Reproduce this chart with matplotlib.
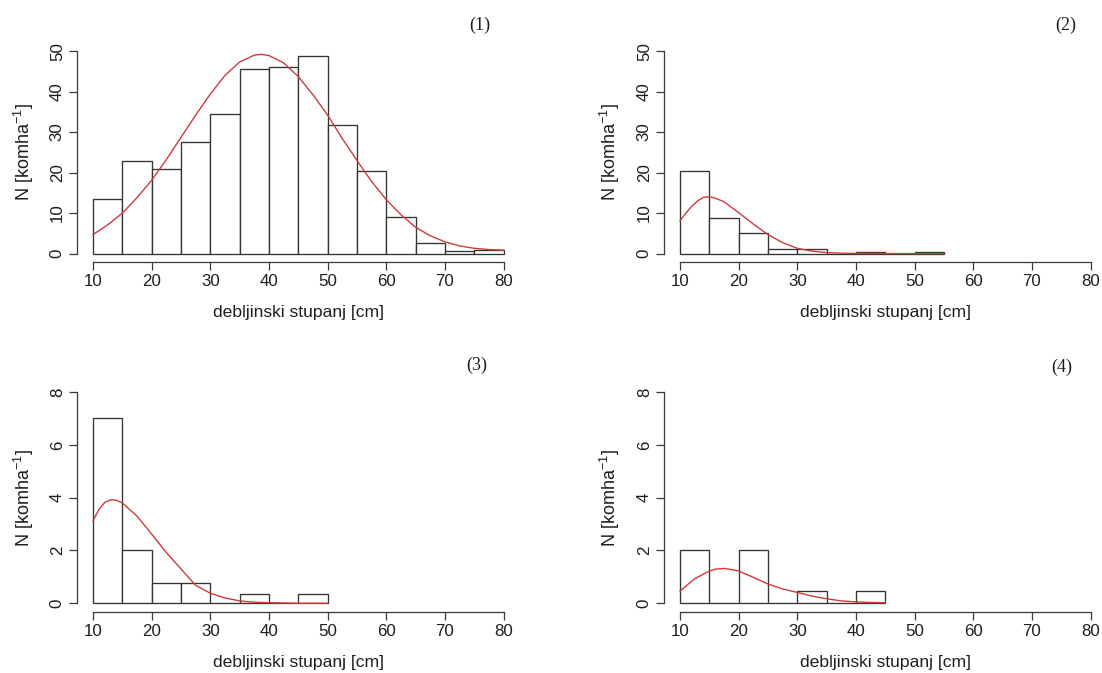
import matplotlib
matplotlib.use("Agg")
import matplotlib.pyplot as plt

plt.rcParams['font.family'] = ['Liberation Sans', 'DejaVu Sans']
plt.rcParams['mathtext.default'] = 'regular'

# histogram bins (cm) and bar heights, N per ha
edges1 = [10, 15, 20, 25, 30, 35, 40, 45, 50, 55, 60, 65, 70, 75]
bars1 = [13.6, 22.9, 21.0, 27.5, 34.5, 45.6, 46.0, 48.9, 31.7, 20.5, 9.0, 2.5, 0.6, 0.9]
edges2 = [10, 15, 20, 25, 30, 35, 40, 45, 50]
bars2 = [20.4, 8.7, 5.0, 1.2, 1.2, 0, 0.35, 0, 0.35]
edges3 = [10, 15, 20, 25, 30, 35, 40, 45]
bars3 = [7.0, 2.0, 0.75, 0.75, 0, 0.35, 0, 0.35]
edges4 = [10, 15, 20, 25, 30, 35, 40]
bars4 = [2.0, 0, 2.0, 0, 0.45, 0, 0.45]

# fitted curves
cx1 = [10, 12.5, 15, 17.5, 20, 22.5, 25, 27.5, 30, 32.5, 35, 37.5, 38.7, 40,
       42.5, 45, 47.5, 50, 52.5, 55, 57.5, 60, 62.5, 65, 67.5, 70, 72.5, 75, 77.5, 80]
cy1 = [4.7, 7.1, 10.0, 13.8, 18.1, 23.2, 28.7, 34.2, 39.4, 44.0, 47.3, 49.0, 49.2, 48.9,
       47.1, 43.7, 39.2, 34.2, 28.4, 23.0, 17.8, 13.3, 9.6, 6.5, 4.4, 2.9, 1.9, 1.3, 1.0, 0.85]
cx2 = [10, 11, 12, 13, 14, 15, 16, 17.5, 20, 22.5, 25, 27.5, 30, 32.5, 35, 37.5,
       40, 42.5, 45, 47.5, 50, 52.5, 55]
cy2 = [8.1, 10.0, 11.7, 13.0, 13.9, 14.05, 13.7, 12.8, 10.1, 7.3, 4.7, 2.7, 1.3, 0.6,
       0.25, 0.1, 0.04, 0.02, 0.01, 0, 0, 0, 0]
cx3 = [10, 11, 12, 13, 14, 15, 17.5, 20, 22.5, 25, 27.5, 30, 32.5, 35, 37.5, 40,
       42.5, 45, 47.5, 50]
cy3 = [3.13, 3.55, 3.82, 3.92, 3.9, 3.8, 3.3, 2.62, 1.92, 1.3, 0.68, 0.38, 0.2, 0.09,
       0.04, 0.02, 0.01, 0, 0, 0]
cx4 = [10, 12.5, 15, 16, 17.5, 19, 20, 22.5, 25, 27.5, 30, 32.5, 35, 37.5, 40, 42.5, 45]
cy4 = [0.46, 0.93, 1.22, 1.29, 1.32, 1.27, 1.22, 0.98, 0.73, 0.54, 0.41, 0.27, 0.17,
       0.09, 0.05, 0.03, 0.02]

panels = [
    (edges1, bars1, cx1, cy1, 50, [0, 10, 20, 30, 40, 50], '(1)'),
    (edges2, bars2, cx2, cy2, 50, [0, 10, 20, 30, 40, 50], '(2)'),
    (edges3, bars3, cx3, cy3, 8, [0, 2, 4, 6, 8], '(3)'),
    (edges4, bars4, cx4, cy4, 8, [0, 2, 4, 6, 8], '(4)'),
]
xticks = [10, 20, 30, 40, 50, 60, 70, 80]

W, H = 1102, 673
fig = plt.figure(figsize=(W / 100, H / 100), dpi=100)

# axes boxes in pixels: left, top, right, bottom
boxes = [(76.6, 43, 520, 261.7), (663.6, 43, 1107, 261.7),
         (76.6, 383.6, 520, 611.7), (663.6, 383.6, 1107, 611.7)]
tags = [(480, 25), (1066, 25), (477, 365), (1062, 367)]
ylab_x = [23.5, 610, 23.5, 610]
xlab_y = [312, 312, 662, 662]

axc = '#3a3a3a'
red = '#cf3a3c'
txt = '#1e1e1e'

for i, (edges, bars, cx, cy, ymax, yt, tag) in enumerate(panels):
    l, t, r, b = boxes[i]
    ax = fig.add_axes([l / W, 1 - b / H, (r - l) / W, (b - t) / H])
    ax.bar(edges, bars, width=5, align='edge', color='white',
           edgecolor='#333333', linewidth=0.95)
    ax.plot(cx, cy, color=red, lw=1.0)
    ax.set_xlim(7.2, 82.8)
    ax.set_ylim(-0.04 * ymax, 1.04 * ymax)
    for s in ['top', 'right']:
        ax.spines[s].set_visible(False)
    for s in ['left', 'bottom']:
        ax.spines[s].set_color(axc)
        ax.spines[s].set_linewidth(0.9)
    ax.spines['left'].set_bounds(0, ymax)
    ax.spines['bottom'].set_bounds(10, 80)
    ax.set_xticks(xticks)
    ax.set_yticks(yt)
    ax.set_yticklabels([str(v) for v in yt], rotation=90, va='center')
    ax.tick_params(axis='both', length=5.5, width=0.9, color=axc,
                   labelsize=12.2, labelcolor=txt, pad=3)
    ax.set_xlabel('debljinski stupanj [cm]', fontsize=12.6, color=txt)
    ax.set_ylabel(r'N [komha$^{-1}$]', fontsize=13, color=txt)
    ax.xaxis.label.set_va('center')
    ax.yaxis.label.set_va('center')
    ax.xaxis.set_label_coords(0.5, (b - xlab_y[i]) / (b - t))
    ax.yaxis.set_label_coords((ylab_x[i] - l) / (r - l), 0.5)
    tx, ty = tags[i]
    fig.text(tx / W, 1 - ty / H, tag, ha='center', va='center', fontsize=13,
             family='Liberation Serif', color=txt)

fig.savefig('out.png', dpi=100, facecolor='white')
